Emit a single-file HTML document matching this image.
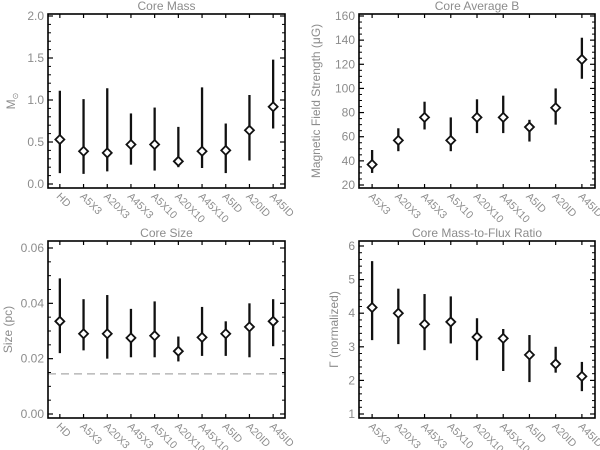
<!DOCTYPE html>
<html><head><meta charset="utf-8">
<style>
html,body{margin:0;padding:0;background:#fff;}
svg{display:block;font-family:"Liberation Sans",sans-serif;}
</style></head>
<body>
<svg id="chart" width="600" height="450" viewBox="0 0 600 450" xmlns="http://www.w3.org/2000/svg"></svg>
<script>
const massCats = ["HD","A5X3","A20X3","A45X3","A5X10","A20X10","A45X10","A5ID","A20ID","A45ID"];
const massVal = [0.53,0.39,0.37,0.47,0.47,0.27,0.39,0.40,0.64,0.92];
const massLo  = [0.13,0.12,0.15,0.23,0.16,0.20,0.19,0.13,0.28,0.66];
const massHi  = [1.11,1.01,1.14,0.84,0.91,0.68,1.15,0.72,1.06,1.48];
const massTicks = ["0.0","0.5","1.0","1.5","2.0"];

const bCats = ["A5X3","A20X3","A45X3","A5X10","A20X10","A45X10","A5ID","A20ID","A45ID"];
const bVal = [37,57,76,57,76,76,68,84,124];
const bLo  = [30,48,66,48,63,63,56,70,108];
const bHi  = [49,67,89,76,91,94,74,100,142];
const bTicks = ["20","40","60","80","100","120","140","160"];

const sizeCats = massCats;
const sizeVal = [0.0335,0.029,0.029,0.0275,0.0283,0.0227,0.0277,0.029,0.0315,0.0335];
const sizeLo  = [0.022,0.023,0.020,0.0205,0.0205,0.019,0.021,0.021,0.0205,0.0245];
const sizeHi  = [0.049,0.0415,0.043,0.038,0.0407,0.028,0.0387,0.0335,0.040,0.0415];
const sizeTicks = ["0.00","0.02","0.04","0.06"];
const sizeRef = [0.0145];

const mfCats = bCats;
const mfVal = [4.17,4.0,3.67,3.74,3.29,3.25,2.76,2.49,2.12];
const mfLo  = [3.2,3.08,2.9,3.1,2.6,2.28,1.95,2.23,1.68];
const mfHi  = [5.55,4.73,4.57,4.5,3.85,3.53,3.35,3.0,2.55];
const mfTicks = ["1","2","3","4","5","6"];

const NS="http://www.w3.org/2000/svg";
const svg=document.getElementById('chart');
function mk(tag,attrs,parent){const e=document.createElementNS(NS,tag);for(const k in attrs)e.setAttribute(k,attrs[k]);(parent||svg).appendChild(e);return e;}

function panel(o){
  const g=mk('g',{});
  
  
  const n=o.cats.length;
  const xs=i=>o.x0+(i+0.5)*(o.x1-o.x0)/n;
  const ys=v=>o.yA+(v-o.vA)*(o.yB-o.yA)/(o.vB-o.vA);
  const grey="#8c8c8c";
  const t=mk('text',{x:(o.x0+o.x1)/2,y:o.y0-4,'text-anchor':'middle','font-size':12,fill:grey},g);
  t.textContent=o.title;
  
  
  o.ticks.forEach(lbl=>{
    const v=parseFloat(lbl);const y=ys(v);
    mk('line',{x1:o.x0,x2:o.x0+5,y1:y,y2:y,stroke:'#000','stroke-width':1.2},g);
    mk('line',{x1:o.x1,x2:o.x1-5,y1:y,y2:y,stroke:'#000','stroke-width':1.2},g);
    const tl=mk('text',{x:o.x0-4,y:y+4,'text-anchor':'end','font-size':12,fill:grey},g);
    tl.textContent=lbl;
    
    
  });
  const t0=parseFloat(o.ticks[0]),t1=parseFloat(o.ticks[o.ticks.length-1]);
  const step=(t1-t0)/(o.ticks.length-1)/o.minor;
  for(let k=0;k<=(o.ticks.length-1)*o.minor;k++){
    if(k%o.minor===0)continue;
    const y=ys(t0+k*step);
    mk('line',{x1:o.x0,x2:o.x0+3,y1:y,y2:y,stroke:'#000','stroke-width':1},g);
    mk('line',{x1:o.x1,x2:o.x1-3,y1:y,y2:y,stroke:'#000','stroke-width':1},g);
  }
  if(o.ref){o.ref.forEach(v=>{const l=mk('line',{x1:o.x0,x2:o.x1,y1:ys(v),y2:ys(v),stroke:'#aaa','stroke-width':1.3,'stroke-dasharray':'8,5'},g);
    
    });}
  o.cats.forEach((c,i)=>{
    const x=xs(i);
    mk('line',{x1:x,x2:x,y1:o.y1,y2:o.y1-4,stroke:'#000','stroke-width':1.2},g);
    mk('line',{x1:x,x2:x,y1:o.y0,y2:o.y0+4,stroke:'#000','stroke-width':1.2},g);
    const tl=mk('text',{x:0,y:0,'font-size':10.5,fill:grey,transform:`translate(${x-4},${o.y1+9}) rotate(45)`},g);
    tl.textContent=c;
    
    
    const eb=mk('line',{x1:x,x2:x,y1:ys(o.lo[i]),y2:ys(o.hi[i]),stroke:'#111','stroke-width':2.3},g);
    
    
    const y=ys(o.val[i]);
    const d=mk('polygon',{points:`${x-4.5},${y} ${x},${y-4.5} ${x+4.5},${y} ${x},${y+4.5}`,fill:'#fff',stroke:'#111','stroke-width':1.8},g);
    
    
  });
  const b=mk('rect',{x:o.x0,y:o.y0,width:o.x1-o.x0,height:o.y1-o.y0,fill:'none',stroke:'#000','stroke-width':1.6},g);
  
  
  const yt=mk('text',{x:0,y:0,'text-anchor':'middle','font-size':12,fill:grey,transform:`translate(${o.ytx},${(o.y0+o.y1)/2}) rotate(-90)`},g);
  yt.innerHTML=o.ytitle;
  
  
}

panel({name:'core-mass-panel',title:'Core Mass',cats:massCats,val:massVal,lo:massLo,hi:massHi,ticks:massTicks,minor:5,
  x0:48,x1:285,y0:14,y1:188,vA:0,yA:184,vB:2,yB:16,ytx:15,ytitle:'M<tspan font-size="8" dy="3">⊙</tspan>'});
panel({name:'core-average-b-panel',title:'Core Average B',cats:bCats,val:bVal,lo:bLo,hi:bHi,ticks:bTicks,minor:4,
  x0:359,x1:595,y0:14,y1:188,vA:20,yA:185,vB:160,yB:16,ytx:320,ytitle:'Magnetic Field Strength (μG)'});
panel({name:'core-size-panel',title:'Core Size',cats:sizeCats,val:sizeVal,lo:sizeLo,hi:sizeHi,ticks:sizeTicks,minor:4,ref:sizeRef,
  x0:48,x1:285,y0:241,y1:418,vA:0,yA:414,vB:0.06,yB:248,ytx:12,ytitle:'Size (pc)'});
panel({name:'core-mass-to-flux-panel',title:'Core Mass-to-Flux Ratio',cats:mfCats,val:mfVal,lo:mfLo,hi:mfHi,ticks:mfTicks,minor:5,
  x0:359,x1:595,y0:241,y1:418,vA:1,yA:414,vB:6,yB:246,ytx:338,ytitle:'Γ (normalized)'});
</script>
</body></html>
